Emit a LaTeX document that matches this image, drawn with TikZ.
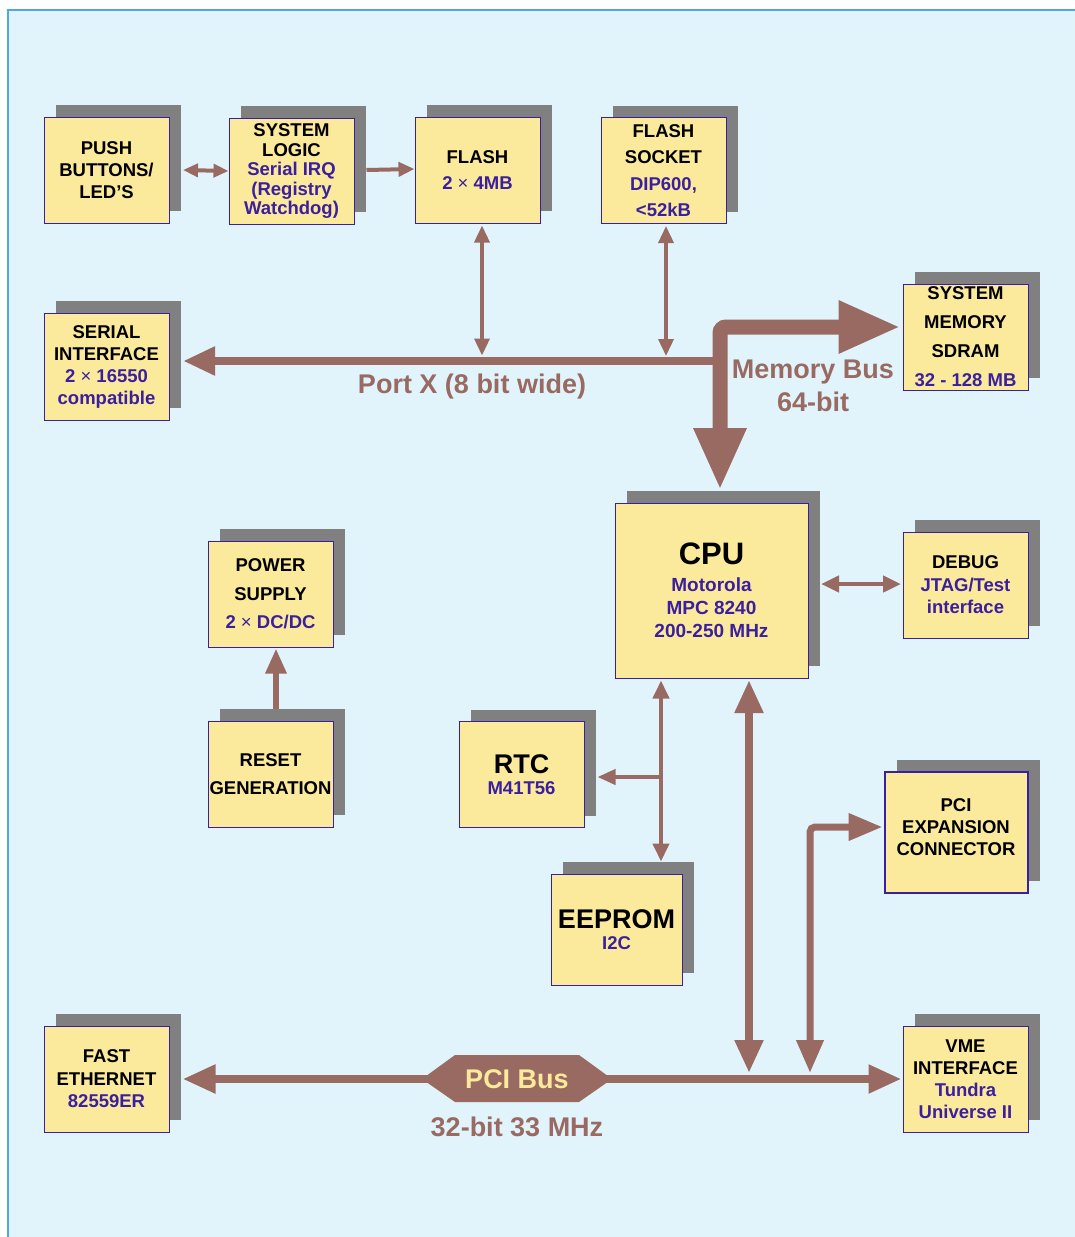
\documentclass[tikz,border=0pt]{standalone}
\usepackage{fontspec}
\setmainfont{Liberation Sans}
\usetikzlibrary{arrows.meta,calc,shadows}
\definecolor{bgblue}{HTML}{E1F4FC}
\definecolor{bordline}{HTML}{4FA7E6}
\definecolor{boxy}{HTML}{FBEA9B}
\definecolor{bordc}{HTML}{3A1FA0}
\definecolor{txtblue}{HTML}{3A1F9F}
\definecolor{shg}{HTML}{808080}
\definecolor{brn}{HTML}{996A62}
\newcommand\bl[1]{\textcolor{txtblue}{#1}}
\tikzset{bigtip/.tip={Triangle[length=33pt,width=27pt]}}
\begin{document}
\begin{tikzpicture}[x=1pt,y=-1pt,
  blk/.style={draw=bordc, line width=1pt, fill=boxy, inner sep=0pt, align=center,
    minimum width=125pt, minimum height=106pt,
    general shadow={fill=shg, shadow xshift=12pt, shadow yshift=12pt}},
  bs/.style={font=\bfseries\fontsize{18.5}{#1}\selectfont},
  lbl/.style={font=\bfseries\fontsize{27}{33}\selectfont, text=brn, align=center, inner sep=0pt},
  tarrow/.style={draw=brn, line width=3.5pt, {Triangle[length=17pt,width=15pt]}-{Triangle[length=17pt,width=15pt]}},
  harrow/.style={draw=brn, line width=4pt, -{Triangle[length=16pt,width=14pt]}},
  busline/.style={draw=brn, line width=8pt}
]
\useasboundingbox (0,0) rectangle (1075,1237);
% background
\fill[bgblue] (8,10) rectangle (1075,1237);
\draw[bordline, line width=1.5pt] (1075,10) -- (8,10) -- (8,1237);

% ---------- blocks ----------
\node[blk, bs=22] (push) at (106.5,170) {PUSH\\BUTTONS/\\LED’S};
\node[blk, bs=19.5] (syslog) at (291.5,171) {SYSTEM\\LOGIC\\\bl{Serial IRQ}\\\bl{(Registry}\\\bl{Watchdog)}};
\node[blk, bs=26] (flash) at (477.5,170) {FLASH\\\bl{2 {\mdseries×} 4MB}};
\node[blk, bs=26.5] (socket) at (663.5,170.5) {FLASH\\SOCKET\\\bl{DIP600,}\\\bl{<52kB}};
\node[blk, bs=22, minimum height=107pt] (serial) at (106.5,366.5) {SERIAL\\INTERFACE\\\bl{2 {\mdseries×} 16550}\\\bl{compatible}};
\node[blk, bs=29] (sysmem) at (965.5,337) {SYSTEM\\MEMORY\\SDRAM\\\bl{32 - 128 MB}};
\node[blk, font=\bfseries\fontsize{19}{23}\selectfont, minimum width=193pt, minimum height=175pt] (cpu) at (711.5,590.5)
  {{\fontsize{31}{31}\selectfont CPU}\\[4pt]\bl{Motorola}\\\bl{MPC 8240}\\\bl{200-250 MHz}};
\node[blk, bs=22.5] (debug) at (965.5,585) {DEBUG\\\bl{JTAG/Test}\\\bl{interface}};
\node[blk, bs=28.5] (power) at (270.5,594) {POWER\\SUPPLY\\\bl{2 {\mdseries×} DC/DC}};
\node[blk, bs=28] (reset) at (270.5,774) {RESET\\GENERATION};
\node[blk, bs=20] (rtc) at (521.5,774.5) {{\fontsize{27}{27}\selectfont RTC}\\[1pt]\bl{M41T56}};
\node[blk, bs=20, minimum width=131pt, minimum height=111pt] (eeprom) at (616.5,929.5) {{\fontsize{27}{27}\selectfont EEPROM}\\[1pt]\bl{I2C}};
\node[blk, line width=2pt, minimum width=143pt, minimum height=121pt] (pciexp) at (956,832) {};
\node[bs=22, align=center, inner sep=0pt] (pciexptxt) at (956,827) {PCI\\EXPANSION\\CONNECTOR};
\node[blk, bs=22] (vme) at (965.5,1079) {VME\\INTERFACE\\\bl{Tundra}\\\bl{Universe II}};
\node[blk, bs=22.5] (eth) at (106.5,1079) {FAST\\ETHERNET\\\bl{82559ER}};

% ---------- top row arrows ----------
\draw[draw=brn, line width=4pt, {Triangle[length=15pt,width=13pt]}-{Triangle[length=15pt,width=13pt]}]
  ($(push.east)+(13.5,0)$) -- (syslog.west);
\draw[harrow] ($(syslog.east)+(12,-1)$) -- ($(flash.west)+(0,-1)$);

% ---------- Port X ----------
\coordinate (pxj) at (720,361);
\draw[busline, -{Triangle[length=32pt,width=27pt]}] (pxj) -- ($(serial.east)+(13.5,-5.5)$);
\draw[tarrow] ($(flash.south)+(4.5,2)$) -- ($(flash.south)+(4.5,132)$);
\draw[tarrow] ($(socket.south)+(2.5,2)$) -- ($(socket.south)+(2.5,132)$);
\node[lbl] (portx) at (472,387) {Port X (8 bit wide)};

% ---------- Memory bus ----------
\draw[draw=brn, line width=15pt, rounded corners=6pt,
  {Triangle[length=62pt,width=49pt]}-{Triangle[length=62pt,width=49pt]}]
  ($(cpu.north)+(8.5,-12.5)$) |- ($(sysmem.west)+(-2,-10)$);
\node[lbl] (mbus) at (813,386) {Memory Bus\\64-bit};

% ---------- CPU side links ----------
\draw[draw=brn, line width=4.5pt, {Triangle[length=18pt,width=16pt]}-{Triangle[length=18pt,width=16pt]}]
  ($(cpu.east)+(12.5,-6.5)$) -- ($(debug.west)+(-1.5,-1)$);
\draw[draw=brn, line width=6pt, -{Triangle[length=25pt,width=20pt]}]
  ($(reset.north)+(5.5,-12)$) -- ($(power.south)+(5.5,1)$);
\draw[draw=brn, line width=4pt, {Triangle[length=18pt,width=16pt]}-{Triangle[length=18pt,width=16pt]}]
  ($(cpu.south)+(-50.5,2)$) -- ($(eeprom.north)+(44.5,-12)$);
\coordinate (rtcj) at (661,777);
\draw[draw=brn, line width=4pt, -{Triangle[length=18pt,width=15pt]}] (rtcj) -- ($(rtc.east)+(13,2.5)$);

% ---------- PCI bus ----------
\draw[busline, bigtip-bigtip] ($(eth.east)+(13,0)$) -- ($(vme.west)+(-1,0)$);
\fill[brn] (422,1079) -- (455,1055) -- (579,1055) -- (612,1079) -- (579,1102) -- (455,1102) -- cycle;
\node[lbl, text=boxy] (pcibus) at (517,1079) {PCI Bus};
\node[lbl] (pcispeed) at (517,1127) {32-bit 33 MHz};
\coordinate (jcpu) at (749,1073);
\coordinate (jexp) at (810,1073);
\draw[busline, bigtip-bigtip] ($(cpu.south)+(37.5,1.5)$) -- (jcpu);
\draw[draw=brn, line width=7pt, rounded corners=5pt,
  {Triangle[length=33pt,width=26pt]}-{Triangle[length=34pt,width=26pt]}]
  (jexp) |- ($(pciexp.west)+(-1,-5)$);
\end{tikzpicture}
\end{document}
